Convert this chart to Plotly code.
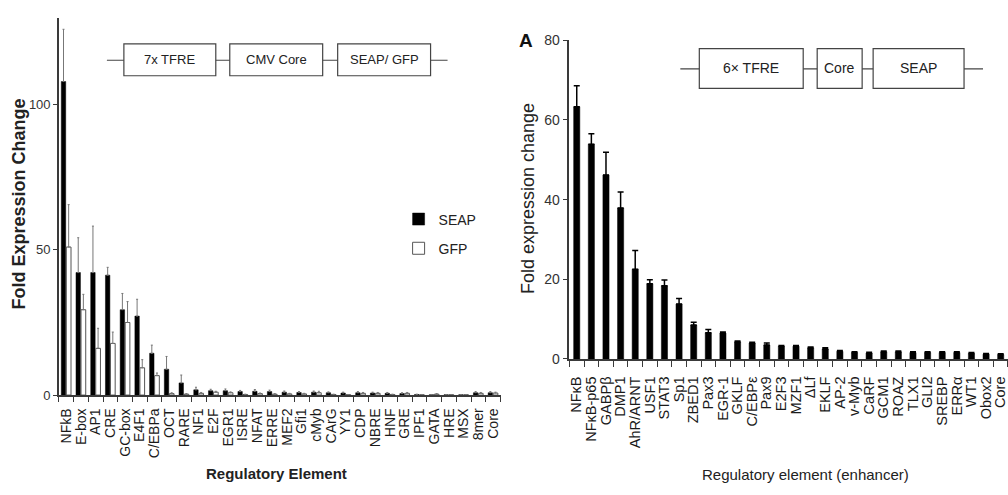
import plotly.graph_objects as go

# ---------------- data ----------------
left_categories = ["NFkB", "E-box", "AP1", "CRE", "GC-box", "E4F1", "C/EBPa", "OCT", "RARE", "NF1",
                   "E2F", "EGR1", "ISRE", "NFAT", "ERRE", "MEF2", "Gfi1", "cMyb", "CArG", "YY1",
                   "CDP", "NBRE", "HNF", "GRE", "IPF1", "GATA", "HRE", "MSX", "8mer", "Core"]
seap_values = [108, 42.2, 42.2, 41.3, 29.4, 27.2, 14.4, 8.9, 4.2, 1.8,
               1.5, 1.5, 1.2, 1.3, 1.2, 1.0, 0.9, 1.0, 0.8, 0.7,
               0.8, 0.7, 0.6, 0.5, 0.2, 0.1, 0.1, 0.1, 0.8, 0.8]
seap_errors = [18, 12, 16, 2.7, 5.6, 5.8, 2.8, 4.4, 2.7, 0.9,
               0.5, 0.6, 0.4, 0.6, 0.5, 0.4, 0.3, 0.4, 0.3, 0.3,
               0.4, 0.3, 0.3, 0.3, 0.1, 0.1, 0, 0, 0.4, 0.4]
gfp_values = [51, 29.4, 16.1, 17.8, 25, 9.4, 6.7, 0.5, 0.3, 0.6,
              1.0, 0.8, 0.2, 0.5, 0.3, 0.4, 0.4, 0.8, 0.2, 0.1,
              0.6, 0.6, 0.2, 0.6, 0.1, 0.3, 0.1, 0.1, 0.6, 0.7]
gfp_errors = [14.6, 5.3, 6.9, 3.9, 7.2, 2.8, 0.9, 0.3, 0.2, 0.3,
              0.3, 0.3, 0.1, 0.2, 0.2, 0.2, 0.2, 0.5, 0.1, 0.1,
              0.3, 0.3, 0.1, 0.3, 0.1, 0.2, 0, 0, 0.3, 0.3]
left_yticks = [0, 50, 100]

right_categories = ["NFκB", "NFκB-p65", "GABPβ", "DMP1", "AhR/ARNT", "USF1", "STAT3", "Sp1", "ZBED1", "Pax3",
                    "EGR-1", "GKLF", "C/EBPε", "Pax9", "E2F3", "MZF1", "ΔLf", "EKLF", "AP-2", "v-Myb",
                    "CaRF", "GCM1", "ROAZ", "TLX1", "GLI2", "SREBP", "ERRα", "WT1", "Obox2", "Core"]
right_values = [63.3, 53.9, 46.2, 37.9, 22.5, 18.9, 18.4, 13.8, 8.5, 6.6,
                6.5, 4.3, 4.0, 3.5, 3.2, 3.2, 2.8, 2.5, 1.9, 1.6,
                1.5, 1.8, 1.8, 1.6, 1.6, 1.6, 1.6, 1.4, 1.2, 1.1]
right_errors = [5.3, 2.6, 5.7, 4.0, 4.7, 1.0, 1.4, 1.4, 0.7, 0.8,
                0.3, 0.2, 0.2, 0.5, 0.2, 0.2, 0.2, 0.3, 0.2, 0.2,
                0.2, 0.2, 0.2, 0.2, 0.2, 0.2, 0.2, 0.2, 0.2, 0.2]
right_yticks = [0, 20, 40, 60, 80]

W, H = 1008, 495
FONT = "Liberation Sans, Arial, sans-serif"
AX = "#3a3a3a"

def px(x):
    return x / W

def py(y):
    return 1 - y / H

fig = go.Figure()

fig.add_trace(go.Bar(
    x=left_categories, y=seap_values, name="SEAP", legendgroup="seap",
    marker=dict(color="black", line=dict(color="black", width=0.5)),
    width=0.3, offset=-0.34,
    error_y=dict(type="data", array=seap_errors, arrayminus=[0] * len(seap_errors),
                 symmetric=False, color="#777777", thickness=1, width=1),
    xaxis="x", yaxis="y",
))
fig.add_trace(go.Bar(
    x=left_categories, y=gfp_values, name="GFP", legendgroup="gfp",
    marker=dict(color="white", line=dict(color="#555555", width=1)),
    width=0.32, offset=0.0,
    error_y=dict(type="data", array=gfp_errors, arrayminus=[0] * len(gfp_errors),
                 symmetric=False, color="#777777", thickness=1, width=1),
    xaxis="x", yaxis="y",
))
fig.add_trace(go.Bar(
    x=right_categories, y=right_values, name="SEAP (6× TFRE)", showlegend=False,
    legendgroup="right",
    marker=dict(color="black", line=dict(color="black", width=0.5)),
    width=0.42,
    error_y=dict(type="data", array=right_errors, arrayminus=[0] * len(right_errors),
                 symmetric=False, color="black", thickness=1.5, width=3),
    xaxis="x2", yaxis="y2",
))

fig.update_layout(
    width=W, height=H,
    margin=dict(l=0, r=0, t=0, b=0),
    paper_bgcolor="white", plot_bgcolor="white",
    barmode="group",
    font=dict(family=FONT, color="#222"),
    xaxis=dict(domain=[px(58), px(500)], range=[-0.5, 29.5], type="category",
               tickmode="linear", dtick=1,
               showline=True, linecolor=AX, linewidth=1.5, ticks="outside", ticklen=5,
               tickcolor=AX, tickson="boundaries", tickangle=-90, ticklabelstandoff=6,
               tickfont=dict(family=FONT, size=14, color="#1a1a1a"),
               showgrid=False, zeroline=False, anchor="y"),
    yaxis=dict(domain=[py(400), py(10)], range=[0, 130], tickvals=left_yticks,
               showline=True, linecolor=AX, linewidth=1.5, ticks="outside", ticklen=4,
               tickcolor=AX, tickfont=dict(family=FONT, size=13, color="#333"),
               showgrid=False, zeroline=False, anchor="x"),
    xaxis2=dict(domain=[px(569), 1.0], range=[-0.5, 29.5], type="category",
                tickmode="linear", dtick=1,
                showline=True, linecolor=AX, linewidth=1.5, ticks="outside", ticklen=6,
                tickcolor=AX, tickson="boundaries", tickangle=-90, ticklabelstandoff=10,
                tickfont=dict(family=FONT, size=14.5, color="#1a1a1a"),
                showgrid=False, zeroline=False, anchor="y2"),
    yaxis2=dict(domain=[py(362.7), py(33.3)], range=[0, 80], tickvals=right_yticks,
                showline=True, linecolor=AX, linewidth=1.5, ticks="outside", ticklen=5,
                tickcolor=AX, tickfont=dict(family=FONT, size=14, color="#333"),
                showgrid=False, zeroline=False, anchor="x2"),
    legend=dict(x=px(398), y=py(202), xanchor="left", yanchor="top",
                font=dict(family=FONT, size=14, color="#222"),
                bgcolor="rgba(0,0,0,0)", tracegroupgap=8, traceorder="grouped"),
)

annotations = [
    dict(text="<b>Fold Expression Change</b>", x=px(18), y=py(202), textangle=-90,
         font=dict(size=18, family=FONT, color="#222")),
    dict(text="<b>Regulatory Element</b>", x=px(276), y=py(481),
         font=dict(size=15, family=FONT, color="#222")),
    dict(text="Fold expression change", x=px(527), y=py(197), textangle=-90,
         font=dict(size=18, family=FONT, color="#222")),
    dict(text="Regulatory element (enhancer)", x=px(805), y=py(482),
         font=dict(size=15, family=FONT, color="#222")),
    dict(text="<b>A</b>", x=px(526), y=py(34),
         font=dict(size=19, family=FONT, color="#111")),
]

shapes = []

def construct(line_x0, line_x1, y_mid, boxes, fontsize):
    shapes.append(dict(type="line", xref="paper", yref="paper", x0=px(line_x0), x1=px(line_x1),
                       y0=py(y_mid), y1=py(y_mid), line=dict(color="#444", width=1.2)))
    for (x0, x1, y0, y1, label) in boxes:
        shapes.append(dict(type="rect", xref="paper", yref="paper", x0=px(x0), x1=px(x1),
                           y0=py(y1), y1=py(y0), fillcolor="white",
                           line=dict(color="#444", width=1.2)))
        annotations.append(dict(text=label, x=px((x0 + x1) / 2), y=py((y0 + y1) / 2),
                                font=dict(size=fontsize, family=FONT, color="#222")))

construct(106, 447, 54, [(123, 215, 37, 70, "7x TFRE"),
                         (229, 322, 37, 70, "CMV Core"),
                         (337, 430, 37, 70, "SEAP/ GFP")], 13)
construct(680, 983, 63, [(699, 803, 42, 83, "6× TFRE"),
                         (817, 862, 42, 83, "Core"),
                         (873, 964, 42, 83, "SEAP")], 14)

for a in annotations:
    a.setdefault("xref", "paper")
    a.setdefault("yref", "paper")
    a.setdefault("showarrow", False)
    a.setdefault("xanchor", "center")
    a.setdefault("yanchor", "middle")

fig.update_layout(shapes=shapes, annotations=annotations)

fig.write_html("out.html")
